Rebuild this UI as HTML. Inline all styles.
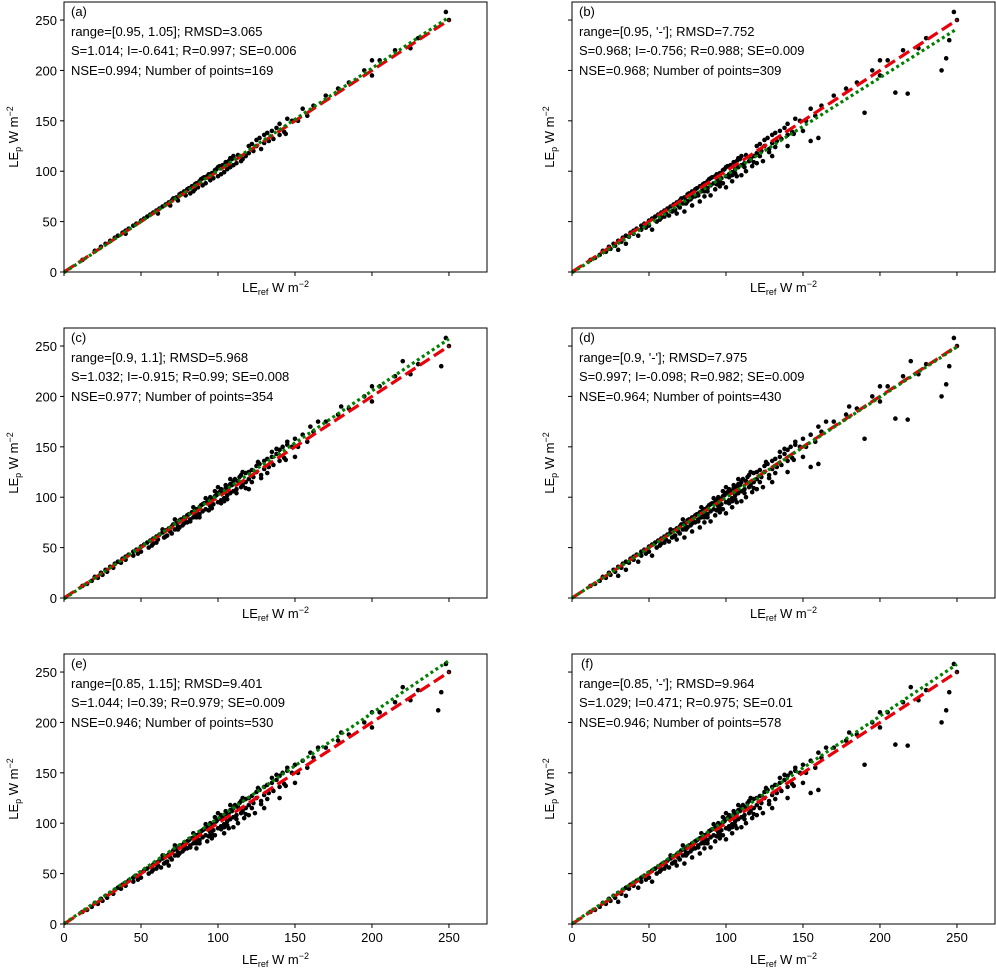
<!DOCTYPE html>
<html><head><meta charset="utf-8">
<style>
html,body{margin:0;padding:0;background:#fff;}
svg{display:block;font-family:"Liberation Sans","DejaVu Sans",sans-serif;}
</style></head>
<body>
<svg id="fig" width="996" height="972" xmlns="http://www.w3.org/2000/svg"></svg>
<script>
const xs=[12,15,18,20,22,24,25,27,28,30,30,32,33,35,35,37,38,40,40,42,43,45,45,47,48,50,50,52,52,54,55,56,57,58,60,60,61,62,63,64,65,66,67,68,68,69,70,70,71,72,73,73,74,75,75,76,77,78,78,79,80,80,81,82,83,83,84,85,85,86,86,87,88,88,89,90,90,90,91,92,93,93,94,95,95,96,96,97,98,98,99,100,100,100,101,102,102,103,104,104,105,105,106,107,107,108,108,109,110,110,110,111,112,113,113,114,115,115,116,117,118,118,120,120,120,122,123,124,125,125,127,128,130,130,130,132,133,135,135,136,138,140,140,140,142,143,145,145,148,150,150,152,155,155,158,160,160,162,165,170,175,178,180,185,190,195,200,200,205,210,215,218,220,225,230,240,243,245,248,250,
 64,72,78,84,88,92,96,100,104,108,112,116,122,126,132,138,144,58,66,74,82,94,106,118,128,98,102,86];
const ys=[12,14,17,21,20,25,23,28,26,31,22,30,34,36,28,35,39,38,41,43,36,46,42,48,44,51,46,53,42,55,50,57,52,59,61,55,58,63,56,65,60,67,62,69,58,66,71,64,73,68,74,60,71,77,70,78,72,80,66,76,82,75,83,78,85,70,80,87,82,88,75,84,90,80,92,93,86,76,94,88,95,82,97,91,100,98,85,93,101,88,102,104,95,84,105,97,108,106,99,90,109,112,102,110,95,113,104,112,115,106,96,118,108,116,100,120,110,122,112,105,124,115,125,118,108,127,120,110,131,125,133,122,136,128,115,138,130,140,145,132,143,147,136,125,150,139,152,155,150,158,140,150,162,130,155,170,133,165,175,175,205,182,190,188,158,200,210,195,210,178,220,177,235,222,232,200,212,230,258,250,
 68,78,74,90,83,99,89,110,96,118,104,125,115,135,124,148,137,54,61,68,76,87,98,109,119,106,94,80];
const panelLabels=['(a)','(b)','(c)','(d)','(e)','(f)'];
const panelRanges=[[0.95,1.05],[0.7,1.05],[0.9,1.1],[0.7,1.1],[0.85,1.15],[0.7,1.15]];
const panelLine1=['range=[0.95, 1.05]; RMSD=3.065',"range=[0.95, '-']; RMSD=7.752",'range=[0.9, 1.1]; RMSD=5.968',"range=[0.9, '-']; RMSD=7.975",'range=[0.85, 1.15]; RMSD=9.401',"range=[0.85, '-']; RMSD=9.964"];
const slopes=[1.014,0.968,1.032,0.997,1.044,1.029];
const intercepts=[-0.641,-0.756,-0.915,-0.098,0.39,0.471];
const rs=[0.997,0.988,0.99,0.982,0.979,0.975];
const ses=['0.006','0.009','0.008','0.009','0.009','0.01'];
const nses=[0.994,0.968,0.977,0.964,0.946,0.946];
const npts=[169,309,354,430,530,578];
const xticks=[0,50,100,150,200,250];
const yticks=[0,50,100,150,200,250];

const NS='http://www.w3.org/2000/svg';
const svg=document.getElementById('fig');
function mk(tag,attrs,parent){const e=document.createElementNS(NS,tag);for(const k in attrs)e.setAttribute(k,attrs[k]);(parent||svg).appendChild(e);return e;}
const lefts=[64,572], tops=[2,328,654], W=423, H=270, XMAX=274.7, YMAX=267.9;
for(let p=0;p<6;p++){
  const col=p%2,row=Math.floor(p/2);
  const L=lefts[col],T=tops[row];
  const sx=v=>L+v/XMAX*W, sy=v=>T+H-v/YMAX*H;
  const g=mk('g',{});
  
  
  for(let i=0;i<xs.length;i++){
    const r=ys[i]/xs[i];
    if(r<panelRanges[p][0]||r>panelRanges[p][1])continue;
    const c=mk('circle',{cx:sx(xs[i]),cy:sy(ys[i]),r:2.3,fill:'#000'},g);
    
    
  }
  const red=mk('line',{x1:sx(0),y1:sy(0),x2:sx(250),y2:sy(250),stroke:'#e8000b',"stroke-width":3.2,"stroke-dasharray":'12,5'},g);
  
  
  const grn=mk('line',{x1:sx(0),y1:sy(intercepts[p]),x2:sx(250),y2:sy(slopes[p]*250+intercepts[p]),stroke:'#007f00',"stroke-width":3.2,"stroke-dasharray":'3,3'},g);
  
  
  const fr=mk('rect',{x:L,y:T,width:W,height:H,fill:'none',stroke:'#000',"stroke-width":1},g);
  
  
  xticks.forEach(v=>{
    mk('line',{x1:sx(v),x2:sx(v),y1:T+H,y2:T+H+4,stroke:'#000'},g);
    if(row===2){const t=mk('text',{x:sx(v),y:T+H+18,"font-size":13,"text-anchor":'middle'},g);t.textContent=v;
      
      }
  });
  yticks.forEach(v=>{
    mk('line',{x1:L-4,x2:L,y1:sy(v),y2:sy(v),stroke:'#000'},g);
    if(col===0){const t=mk('text',{x:L-7,y:sy(v)+5,"font-size":13,"text-anchor":'end'},g);t.textContent=v;
      
      }
  });
  const xl=mk('text',{x:L+W/2,y:T+H+(row===2?40:20),"font-size":13,"text-anchor":'middle'},g);
  xl.innerHTML='LE<tspan font-size="9" dy="3">ref</tspan><tspan dy="-3"> W m</tspan><tspan font-size="9" dy="-5">−2</tspan>';
  
  
  const yx=col===0?L-46:L-18, yy=T+H/2;
  const yl=mk('text',{x:yx,y:yy,"font-size":13,"text-anchor":'middle',transform:`rotate(-90 ${yx} ${yy})`},g);
  yl.innerHTML='LE<tspan font-size="9" dy="3">p</tspan><tspan dy="-3"> W m</tspan><tspan font-size="9" dy="-5">−2</tspan>';
  
  
  const lines=[panelLabels[p],panelLine1[p],`S=${slopes[p]}; I=${intercepts[p]}; R=${rs[p]}; SE=${ses[p]}`,`NSE=${nses[p]}; Number of points=${npts[p]}`];
  const ly=[14,34,53,73];
  lines.forEach((s,i)=>{const t=mk('text',{x:L+(i===0&&p===5?9:7),y:T+ly[i],"font-size":13},g);t.textContent=s;
    
    });
}
</script>
</body></html>
